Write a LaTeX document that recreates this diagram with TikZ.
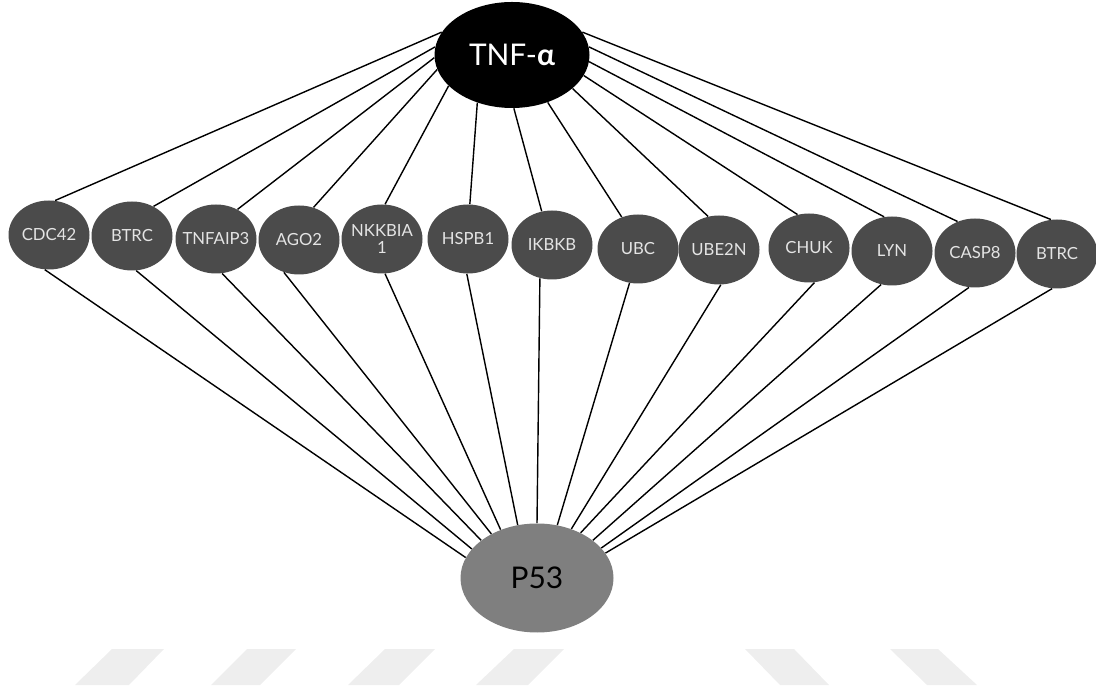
\documentclass[tikz,border=0pt]{standalone}
\usepackage{fontspec}
\setmainfont{Lato}
\usetikzlibrary{shapes.geometric}

\definecolor{genegray}{HTML}{4B4B4B}
\definecolor{genetext}{HTML}{E4E4E4}
\definecolor{hubgray}{HTML}{7F7F7F}
\definecolor{markgray}{HTML}{EEEEEE}

% gene names are allowed to run past the fixed ellipse size
\newcommand{\gname}[1]{\makebox[0pt]{#1}}

\begin{document}
\begin{tikzpicture}[
    gene/.style={ellipse, fill=genegray, text=genetext, minimum width=1.62cm,
        minimum height=1.38cm, inner sep=0pt, font=\fontsize{9.5}{10}\selectfont},
    link/.style={line width=0.8pt}
]
    \useasboundingbox (0,0) rectangle (21.92,13.86);

    % Faint stripes along the bottom
    \fill[markgray] (2.24,0.88) -- (3.28,0.88) -- (2.58,0.16) -- (1.50,0.16) -- cycle;
    \fill[markgray] (4.94,0.88) -- (5.92,0.88) -- (5.20,0.16) -- (4.22,0.16) -- cycle;
    \fill[markgray] (7.70,0.88) -- (8.70,0.88) -- (7.98,0.16) -- (6.96,0.16) -- cycle;
    \fill[markgray] (10.28,0.88) -- (11.28,0.88) -- (10.56,0.16) -- (9.52,0.16) -- cycle;
    \fill[markgray] (14.90,0.88) -- (15.88,0.88) -- (16.58,0.16) -- (15.60,0.16) -- cycle;
    \fill[markgray] (17.80,0.88) -- (18.76,0.88) -- (19.54,0.16) -- (18.54,0.16) -- cycle;

    % The two hubs
    \node[ellipse, fill=black, text=white, minimum width=3.1cm, minimum height=2.12cm,
        inner sep=0pt, font=\fontsize{17}{18}\selectfont] (tnf) at (10.24,12.76)
        {TNF-\textbf{α}};
    \node[ellipse, fill=hubgray, text=black, minimum width=3.06cm, minimum height=2.18cm,
        inner sep=0pt, font=\fontsize{17}{18}\selectfont] (p53) at (10.74,2.30) {P53};

    % Row of genes in between
    \node[gene] (cdc42) at (0.98,9.16) {\gname{CDC42}};
    \node[gene] (btrca) at (2.64,9.14) {\gname{BTRC}};
    \node[gene] (tnfaip3) at (4.32,9.08) {\gname{TNFAIP3}};
    \node[gene] (ago2) at (5.98,9.06) {\gname{AGO2}};
    \node[gene] (nkkbia) at (7.64,9.08) {\gname{\shortstack{NKKBIA\\1}}};
    \node[gene] (hspb1) at (9.36,9.08) {\gname{HSPB1}};
    \node[gene] (ikbkb) at (11.04,8.96) {\gname{IKBKB}};
    \node[gene] (ubc) at (12.76,8.88) {\gname{UBC}};
    \node[gene] (ube2n) at (14.38,8.86) {\gname{UBE2N}};
    \node[gene] (chuk) at (16.18,8.90) {\gname{CHUK}};
    \node[gene] (lyn) at (17.84,8.84) {\gname{LYN}};
    \node[gene] (casp8) at (19.50,8.80) {\gname{CASP8}};
    \node[gene] (btrcb) at (21.14,8.78) {\gname{BTRC}};

    % Each gene is tied to both hubs, fanned out round the hub borders
    \draw[link] (tnf.162) -- (cdc42.80) (cdc42.263) -- (p53.164);
    \draw[link] (tnf.174) -- (btrca.54) (btrca.277) -- (p53.156);
    \draw[link] (tnf.182) -- (tnfaip3.54) (tnfaip3.280) -- (p53.146);
    \draw[link] (tnf.191) -- (ago2.66) (ago2.245) -- (p53.136);
    \draw[link] (tnf.206) -- (nkkbia.85) (nkkbia.275) -- (p53.127);
    \draw[link] (tnf.234) -- (hspb1.87) (hspb1.268) -- (p53.110);
    \draw[link] (tnf.272) -- (ikbkb.107) (ikbkb.250) -- (p53.90);
    \draw[link] (tnf.307) -- (ubc.117) (ubc.256) -- (p53.69);
    \draw[link] (tnf.331) -- (ube2n.108) (ube2n.273) -- (p53.55);
    \draw[link] (tnf.344) -- (chuk.109) (chuk.279) -- (p53.46);
    \draw[link] (tnf.355) -- (lyn.103) (lyn.252) -- (p53.34);
    \draw[link] (tnf.6) -- (casp8.119) (casp8.260) -- (p53.25);
    \draw[link] (tnf.18) -- (btrcb.100) (btrcb.262) -- (p53.20);
\end{tikzpicture}
\end{document}
